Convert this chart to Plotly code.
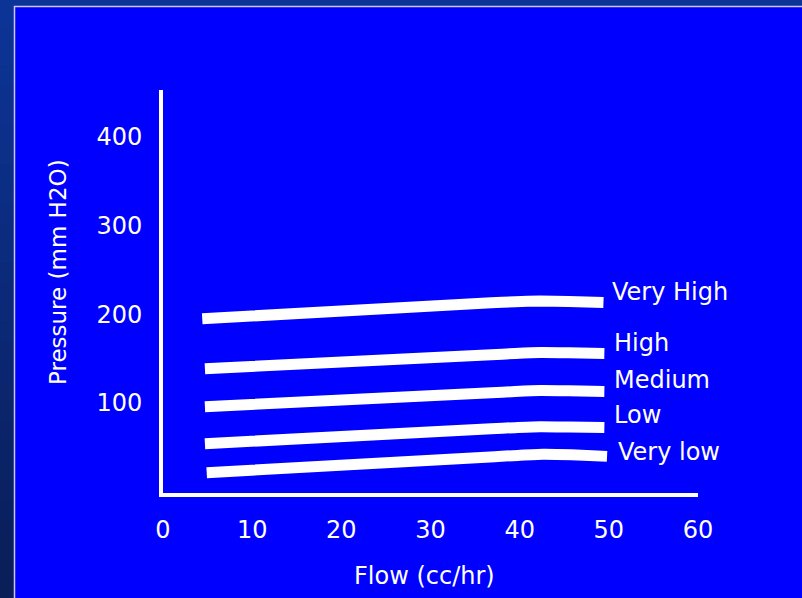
import plotly.graph_objects as go

# Flow (cc/hr) and pressure (mm H2O) for each valve setting
settings = ["Very High", "High", "Medium", "Low", "Very low"]

flow_very_high = [4.4, 36.8, 39.5, 42.3, 45.5, 49.4]
press_very_high = [195, 213, 214.2, 214.9, 214.5, 213.2]

flow_high = [4.7, 36.8, 39.5, 42.3, 45.5, 49.5]
press_high = [138.6, 154.4, 155.8, 156.9, 156.6, 155.9]

flow_medium = [4.7, 36.8, 39.5, 42.3, 45.5, 49.5]
press_medium = [95.8, 111.5, 112.9, 114.0, 113.7, 113.0]

flow_low = [4.7, 36.8, 39.5, 42.3, 45.5, 49.5]
press_low = [54.1, 71.0, 72.2, 73.2, 72.9, 72.3]

flow_very_low = [4.9, 37.2, 39.8, 42.6, 45.8, 49.8]
press_very_low = [21.4, 39.4, 40.9, 42.2, 41.6, 39.8]

# label anchor points (left edge x, centre y) in data units
label_x = [50.1, 50.4, 50.4, 50.4, 50.8]
label_y = [225, 168, 126, 86, 45]

x_ticks = [0, 10, 20, 30, 40, 50, 60]
y_ticks = [100, 200, 300, 400]

FONT = "DejaVu Sans"
FSIZE = 24
BLUE = "#0000FF"
NAVY = "#0c3496"

series = [
    (flow_very_high, press_very_high),
    (flow_high, press_high),
    (flow_medium, press_medium),
    (flow_low, press_low),
    (flow_very_low, press_very_low),
]

fig = go.Figure()
for (fx, py), name in zip(series, settings):
    fig.add_trace(go.Scatter(
        x=fx, y=py, mode="lines", name=name,
        line=dict(color="white", width=11, shape="spline", smoothing=0.5),
        hoverinfo="skip", showlegend=False,
    ))

W, H = 802, 598
L, R, T, B = 163, 104, 90, 105
pw, ph = W - L - R, H - T - B


def px_x(p):
    return (p - L) / pw


def px_y(p):
    return (H - B - p) / ph


shapes = []
# navy frame with a vertical gradient down the left edge
shapes.append(dict(type="rect", xref="paper", yref="paper",
                   x0=px_x(0), x1=px_x(W), y0=px_y(H), y1=px_y(0),
                   fillcolor=NAVY, line=dict(width=0), layer="below"))
steps = 30
top_c = (12, 52, 150)
bot_c = (10, 30, 88)
for i in range(steps):
    t = i / (steps - 1)
    c = tuple(round(a + (b - a) * t) for a, b in zip(top_c, bot_c))
    y0 = 7 + (H - 7) * i / steps
    y1 = 7 + (H - 7) * (i + 1) / steps
    shapes.append(dict(type="rect", xref="paper", yref="paper",
                       x0=px_x(0), x1=px_x(15), y0=px_y(y1 + 0.5), y1=px_y(y0),
                       fillcolor="rgb(%d,%d,%d)" % c, line=dict(width=0), layer="below"))
# blue slide panel with a thin light edge
shapes.append(dict(type="rect", xref="paper", yref="paper",
                   x0=px_x(14.5), x1=px_x(W + 5), y0=px_y(H + 5), y1=px_y(6.5),
                   fillcolor=BLUE, line=dict(color="#c8c8f0", width=1.5), layer="below"))

annotations = []
for txt, lx, ly in zip(settings, label_x, label_y):
    annotations.append(dict(x=lx, y=ly, xref="x", yref="y", text=txt, showarrow=False,
                            xanchor="left", yanchor="middle",
                            font=dict(family=FONT, size=FSIZE, color="white")))
annotations.append(dict(x=px_x(58), y=px_y(272), xref="paper", yref="paper",
                        text="Pressure (mm H2O)", showarrow=False, textangle=-90,
                        xanchor="center", yanchor="middle",
                        font=dict(family=FONT, size=23, color="white")))
annotations.append(dict(x=px_x(424), y=px_y(576), xref="paper", yref="paper",
                        text="Flow (cc/hr)", showarrow=False,
                        xanchor="center", yanchor="middle",
                        font=dict(family=FONT, size=FSIZE, color="white")))

fig.update_layout(
    width=W, height=H,
    margin=dict(l=L, r=R, t=T, b=B, pad=0),
    paper_bgcolor=NAVY, plot_bgcolor=BLUE,
    shapes=shapes, annotations=annotations,
    xaxis=dict(range=[0, 60], tickvals=x_ticks, showgrid=False, zeroline=False,
               showline=True, linecolor="white", linewidth=4, ticks="",
               ticklabelstandoff=12,
               tickfont=dict(family=FONT, size=FSIZE, color="white")),
    yaxis=dict(range=[-1.5, 452.9], tickvals=y_ticks, showgrid=False, zeroline=False,
               showline=True, linecolor="white", linewidth=4, ticks="",
               ticklabelstandoff=12,
               tickfont=dict(family=FONT, size=FSIZE, color="white")),
)

fig.write_html("out.html")
